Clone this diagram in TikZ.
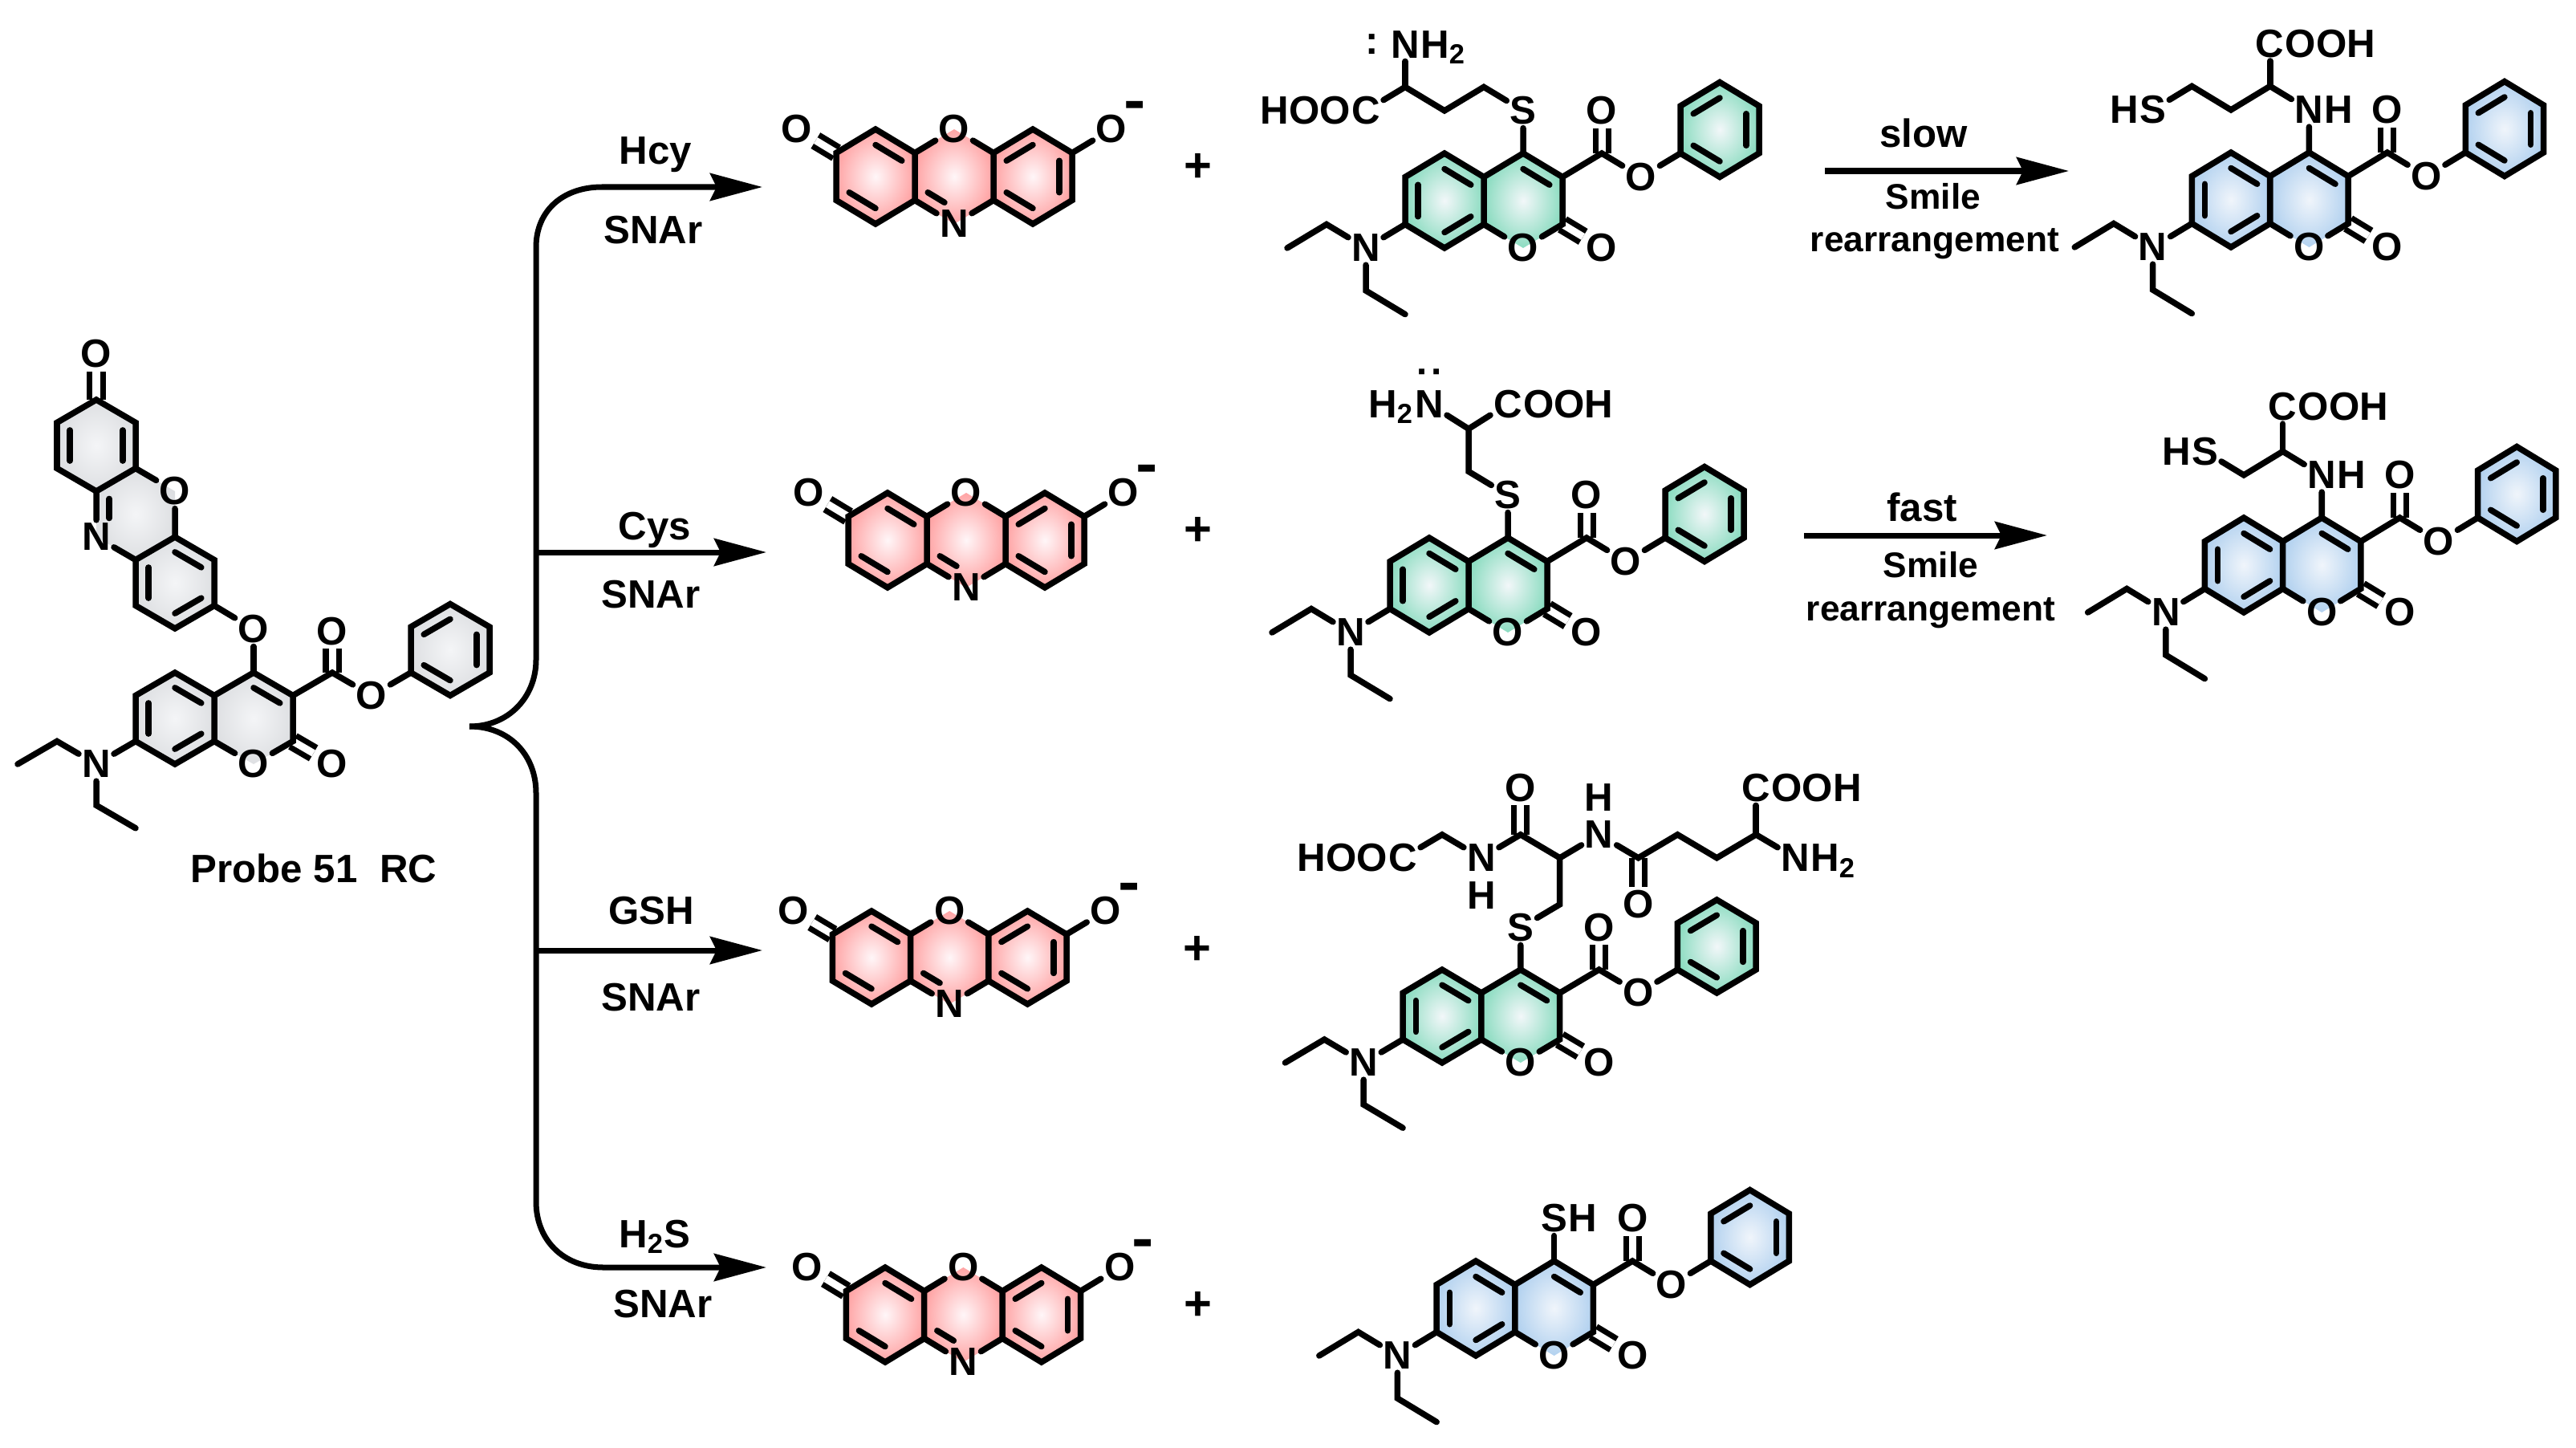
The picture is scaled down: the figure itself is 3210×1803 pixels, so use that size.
\documentclass[tikz,border=0pt]{standalone}
\usepackage{fontspec}
\setmainfont{Liberation Sans}
\usetikzlibrary{calc,arrows.meta}

\definecolor{redrim}{HTML}{FF8080}
\definecolor{redmid}{HTML}{FFF6F8}
\definecolor{mintrim}{HTML}{5FD0A8}
\definecolor{mintmid}{HTML}{F2F7F9}
\definecolor{bluerim}{HTML}{98C2EA}
\definecolor{bluemid}{HTML}{F0F5FB}
\definecolor{greyrim}{HTML}{D4D6D9}
\definecolor{greymid}{HTML}{F4F5F7}

\pgfdeclareradialshading{redshade}{\pgfpointorigin}{color(0bp)=(redmid); color(36bp)=(redrim); color(100bp)=(redrim)}
\pgfdeclareradialshading{mintshade}{\pgfpointorigin}{color(0bp)=(mintmid); color(36bp)=(mintrim); color(100bp)=(mintrim)}
\pgfdeclareradialshading{blueshade}{\pgfpointorigin}{color(0bp)=(bluemid); color(36bp)=(bluerim); color(100bp)=(bluerim)}
\pgfdeclareradialshading{greyshade}{\pgfpointorigin}{color(0bp)=(greymid); color(36bp)=(greyrim); color(100bp)=(greyrim)}

\tikzset{
    lattice/.style n args={4}{shift={(#1,#2)},x=#3*0.01cm,y=#4*0.01cm},
    bond/.style={line width=0.075cm,line cap=round,line join=miter},
    dblbond/.style={line width=0.07cm,double,double distance=0.09cm},
    atom/.style={font=\fontsize{14}{16}\selectfont\bfseries,inner sep=1pt},
    tailatom/.style={atom,anchor=base west,inner xsep=0pt,xshift=-1pt},
    headatom/.style={atom,anchor=base east,inner xsep=0pt,xshift=1pt},
    plussign/.style={font=\fontsize{17}{20}\selectfont\bfseries,inner sep=0pt},
    reagent/.style={font=\fontsize{14}{16}\selectfont\bfseries,anchor=base,inner sep=0pt},
    stepnote/.style={font=\fontsize{12.6}{15}\selectfont\bfseries,anchor=base,inner sep=0pt},
    reactarrow/.style={line width=0.07cm,-{Stealth[length=0.65cm,width=0.34cm,inset=0.08cm]}},
    redring/.style={shading=redshade},
    mintring/.style={shading=mintshade},
    bluering/.style={shading=blueshade},
    greyring/.style={shading=greyshade},
}

% hexagon shading: centre x, centre y, style
\newcommand{\hexring}[3]{\shade[#3] (#1,#2+2) -- (#1+1,#2+1) -- (#1+1,#2-1) -- (#1,#2-2) -- (#1-1,#2-1) -- (#1-1,#2+1) -- cycle;}
% second line of a ring double bond
\newcommand{\innerbond}[4][]{\draw[bond,#1] ($(#2)!.33!(#4)$) -- ($(#3)!.33!(#4)$);}

% coumarin ester with the diethylamino group
\newcommand{\coumarin}[2]{
    \foreach \n/\cx/\cy in {C5/0/2,C4a/1/1,C8a/1/-1,C8/0/-2,C7/-1/-1,C6/-1/1,C4/2/2,C3/3/1,C2/3/-1,Ce/4/2,
        Pa/6/2,Pb/6/4,Pc/7/5,Pd/8/4,Pe/8/2,Pf/7/1,Ea/-3/-1,Eb/-4/-2,Ec/-2/-3.8,Ed/-1/-4.8}
        \coordinate (#1\n) at (\cx,\cy);
    \hexring{0}{0}{#2}
    \hexring{2}{0}{#2}
    \hexring{7}{3}{#2}
    \node[atom] (#1Oa) at (2,-2) {O};
    \node[atom] (#1Ob) at (4,-2) {O};
    \node[atom] (#1Oc) at (4,3.8) {O};
    \node[atom] (#1Od) at (5,1) {O};
    \node[atom] (#1N) at (-2,-2) {N};
    \draw[dblbond] (#1Ce) -- (#1Oc);
    \draw[dblbond] (#1C2) -- (#1Ob);
    \draw[bond] (#1C4a) -- (#1C5) -- (#1C6) -- (#1C7) -- (#1C8) -- (#1C8a) -- cycle;
    \draw[bond] (#1C4a) -- (#1C4) -- (#1C3) -- (#1C2) -- (#1Oa) -- (#1C8a);
    \draw[bond] (#1C3) -- (#1Ce) -- (#1Od) -- (#1Pa);
    \draw[bond] (#1Pa) -- (#1Pb) -- (#1Pc) -- (#1Pd) -- (#1Pe) -- (#1Pf) -- cycle;
    \draw[bond] (#1C7) -- (#1N) -- (#1Ea) -- (#1Eb);
    \draw[bond] (#1N) -- (#1Ec) -- (#1Ed);
    \innerbond{0,2}{1,1}{0,0}
    \innerbond{-1,1}{-1,-1}{0,0}
    \innerbond{0,-2}{1,-1}{0,0}
    \innerbond{2,2}{3,1}{2,0}
    \innerbond{6,4}{7,5}{7,3}
    \innerbond{8,4}{8,2}{7,3}
    \innerbond{7,1}{6,2}{7,3}
}

% the released phenoxazine anion
\newcommand{\phenoxazine}[1]{
    \foreach \n/\cx/\cy in {A/0/2,B/1/1,C/1/-1,D/0/-2,E/-1/-1,F/-1/1,G/3/1,H/3/-1,I/4/2,J/5/1,K/5/-1,L/4/-2}
        \coordinate (#1\n) at (\cx,\cy);
    \hexring{0}{0}{redring}
    \hexring{2}{0}{redring}
    \hexring{4}{0}{redring}
    \node[atom] (#1Oa) at (-2,2) {O};
    \node[atom] (#1Ob) at (2,2) {O};
    \node[atom] (#1Oc) at (6,2) {O};
    \node[atom] (#1N) at (2,-2) {N};
    \node[atom] (#1Minus) at (6.6,2.7) {\scalebox{.85}[1.8]{--}};
    \draw[dblbond] (#1F) -- (#1Oa);
    \draw[bond] (#1B) -- (#1A) -- (#1F) -- (#1E) -- (#1D) -- (#1C) -- cycle;
    \draw[bond] (#1G) -- (#1I) -- (#1J) -- (#1K) -- (#1L) -- (#1H) -- cycle;
    \draw[bond] (#1B) -- (#1Ob) -- (#1G);
    \draw[bond] (#1C) -- (#1N) -- (#1H);
    \draw[bond] (#1J) -- (#1Oc);
    \innerbond{0,2}{1,1}{0,0}
    \innerbond{-1,-1}{0,-2}{0,0}
    \innerbond[shorten >=4pt]{1,-1}{2,-2}{2,0}
    \innerbond{4,2}{3,1}{4,0}
    \innerbond{5,1}{5,-1}{4,0}
    \innerbond{3,-1}{4,-2}{4,0}
}

\begin{document}
\begin{tikzpicture}[x=0.01cm,y=-0.01cm]
    \useasboundingbox (0,0) rectangle (3210,1803);

    % Left: the probe
    \begin{scope}[lattice={218}{895}{49}{28.5}]
        \coumarin{pr}{greyring}
        \node[atom] (prO) at (2,3.9) {O};
        \draw[bond] (prC4) -- (prO);
    \end{scope}
    \begin{scope}[lattice={120}{555}{49}{28.5}]
        \foreach \n/\cx/\cy in {A/0/2,B/1/1,C/1/-1,D/0/-2,E/-1/-1,F/-1/1,G/2/-4,H/3/-5,I/3/-7,J/2/-8,K/1/-7,L/1/-5}
            \coordinate (xa\n) at (\cx,\cy);
        \hexring{0}{0}{greyring}
        \hexring{1}{-3}{greyring}
        \hexring{2}{-6}{greyring}
        \node[atom] (xaOa) at (0,4) {O};
        \node[atom] (xaOb) at (2,-2) {O};
        \node[atom] (xaN) at (0,-4) {N};
        \draw[dblbond] (xaA) -- (xaOa);
        \draw[bond] (xaA) -- (xaB) -- (xaC) -- (xaD) -- (xaE) -- (xaF) -- cycle;
        \draw[bond] (xaG) -- (xaH) -- (xaI) -- (xaJ) -- (xaK) -- (xaL) -- cycle;
        \draw[bond] (xaC) -- (xaOb) -- (xaG);
        \draw[bond] (xaD) -- (xaN) -- (xaL);
        \innerbond{-1,1}{-1,-1}{0,0}
        \innerbond{1,1}{1,-1}{0,0}
        \innerbond[shorten >=4pt]{0,-2}{0,-4}{1,-3}
        \innerbond{2,-4}{3,-5}{2,-6}
        \innerbond{3,-7}{2,-8}{2,-6}
        \innerbond{1,-5}{1,-7}{2,-6}
    \end{scope}
    \draw[bond] (xaI) -- (prO);
    \node[reagent] (prName) at (391,1099) {Probe 51\ \ RC};

    % Branching arrows
    \coordinate (brTip) at (585,905);
    \coordinate (brUp) at (668,822);
    \coordinate (brTopBend) at (668,308);
    \coordinate (brTopEnd) at (750,233);
    \coordinate (hcyTip) at (950,233);
    \coordinate (brDown) at (668,988);
    \coordinate (brBotBend) at (668,1497);
    \coordinate (brBotEnd) at (752,1579);
    \coordinate (htsTip) at (955,1579);
    \coordinate (cysStart) at (668,688);
    \coordinate (cysTip) at (955,688);
    \coordinate (gshStart) at (668,1184);
    \coordinate (gshTip) at (950,1184);
    \draw[reactarrow] (brTip) .. controls (634,905) and (668,868) .. (brUp) -- (brTopBend) .. controls (668,262) and (702,233) .. (brTopEnd) -- (hcyTip);
    \draw[reactarrow] (brTip) .. controls (634,905) and (668,940) .. (brDown) -- (brBotBend) .. controls (668,1545) and (702,1579) .. (brBotEnd) -- (htsTip);
    \draw[reactarrow] (cysStart) -- (cysTip);
    \draw[reactarrow] (gshStart) -- (gshTip);
    \node[reagent] (hcyUp) at (817,205) {Hcy};
    \node[reagent] (hcyDn) at (814,303) {SNAr};
    \node[reagent] (cysUp) at (816,672) {Cys};
    \node[reagent] (cysDn) at (811,757) {SNAr};
    \node[reagent] (gshUp) at (812,1151) {GSH};
    \node[reagent] (gshDn) at (811,1259) {SNAr};
    \node[reagent] (htsUp) at (816,1554) {H\textsubscript{2}S};
    \node[reagent] (htsDn) at (826,1641) {SNAr};

    % Released dye in each row
    \begin{scope}[lattice={1091}{220}{49}{29.5}]
        \phenoxazine{ra}
    \end{scope}
    \begin{scope}[lattice={1106}{673}{49}{29.5}]
        \phenoxazine{rb}
    \end{scope}
    \begin{scope}[lattice={1086}{1193}{48.6}{29}]
        \phenoxazine{rc}
    \end{scope}
    \begin{scope}[lattice={1103}{1638}{48.7}{29.5}]
        \phenoxazine{rd}
    \end{scope}
    \node[plussign] (plusA) at (1493,209) {+};
    \node[plussign] (plusB) at (1493,662) {+};
    \node[plussign] (plusC) at (1492,1184) {+};
    \node[plussign] (plusD) at (1493,1627) {+};

    % Hcy adduct
    \begin{scope}[lattice={1800}{250}{49}{29.5}]
        \coumarin{ha}{mintring}
        \node[atom] (haS) at (2,3.8) {S};
        \node[atom] (haN2) at (-1,6.6) {N};
        \node[tailatom] (haH2) at (haN2.base east) {H\textsubscript{2}};
        \node[atom] (haPair) at (-1.85,6.6) {:};
        \node[atom] (haC) at (-2,3.8) {C};
        \node[headatom] (haHoo) at (haC.base west) {HOO};
        \coordinate (haU) at (1,4.8);
        \coordinate (haV) at (0,3.8);
        \coordinate (haW) at (-1,4.8);
        \draw[bond] (haC4) -- (haS) -- (haU) -- (haV) -- (haW) -- (haC);
        \draw[bond] (haW) -- (haN2);
    \end{scope}

    % Hcy rearranged
    \coordinate (slowA) at (2274,213);
    \coordinate (slowB) at (2578,213);
    \draw[reactarrow] (slowA) -- (slowB);
    \node[reagent] (slowUp) at (2397,183) {slow};
    \node[stepnote] (slowMd) at (2409,260) {Smile};
    \node[stepnote] (slowDn) at (2411,313) {rearrangement};
    \begin{scope}[lattice={2780}{249}{48.7}{29.5}]
        \coumarin{hb}{bluering}
        \node[atom] (hbN2) at (2,3.8) {N};
        \node[tailatom] (hbH2) at (hbN2.base east) {H};
        \node[atom] (hbC) at (1,6.6) {C};
        \node[tailatom] (hbOoh) at (hbC.base east) {OOH};
        \node[atom] (hbS) at (-2,3.8) {S};
        \node[headatom] (hbHs) at (hbS.base west) {H};
        \coordinate (hbU) at (1,4.8);
        \coordinate (hbV) at (0,3.8);
        \coordinate (hbW) at (-1,4.8);
        \draw[bond] (hbC4) -- (hbN2) -- (hbU) -- (hbV) -- (hbW) -- (hbS);
        \draw[bond] (hbU) -- (hbC);
    \end{scope}

    % Cys adduct
    \begin{scope}[lattice={1781}{729}{49}{29.5}]
        \coumarin{ca}{mintring}
        \node[atom] (caS) at (2,3.8) {S};
        \node[atom] (caN2) at (0,7.65) {N};
        \node[headatom] (caH2) at (caN2.base west) {H\textsubscript{2}};
        \node[atom,rotate=90] (caPair) at (0,9) {:};
        \node[atom] (caC) at (2,7.65) {C};
        \node[tailatom] (caOoh) at (caC.base east) {OOH};
        \coordinate (caU) at (1,4.8);
        \coordinate (caV) at (1,6.6);
        \draw[bond] (caC4) -- (caS) -- (caU) -- (caV) -- (caN2);
        \draw[bond] (caV) -- (caC);
    \end{scope}

    % Cys rearranged
    \coordinate (fastA) at (2248,667);
    \coordinate (fastB) at (2551,667);
    \draw[reactarrow] (fastA) -- (fastB);
    \node[reagent] (fastUp) at (2395,649) {fast};
    \node[stepnote] (fastMd) at (2406,719) {Smile};
    \node[stepnote] (fastDn) at (2406,773) {rearrangement};
    \begin{scope}[lattice={2796}{704}{48.6}{29.5}]
        \coumarin{cb}{bluering}
        \node[atom] (cbN2) at (2,3.8) {N};
        \node[tailatom] (cbH2) at (cbN2.base east) {H};
        \node[atom] (cbC) at (1,6.7) {C};
        \node[tailatom] (cbOoh) at (cbC.base east) {OOH};
        \node[atom] (cbS) at (-1,4.8) {S};
        \node[headatom] (cbHs) at (cbS.base west) {H};
        \coordinate (cbU) at (1,4.8);
        \coordinate (cbV) at (0,3.8);
        \draw[bond] (cbC4) -- (cbN2) -- (cbU) -- (cbV) -- (cbS);
        \draw[bond] (cbU) -- (cbC);
    \end{scope}

    % GSH adduct
    \begin{scope}[lattice={1797}{1266}{48.9}{29}]
        \coumarin{ga}{mintring}
        \node[atom] (gaS) at (2,3.8) {S};
        \node[atom] (gaOa) at (2,9.8) {O};
        \node[atom] (gaOb) at (5,4.8) {O};
        \node[atom] (gaNa) at (1,6.8) {N};
        \node[atom,inner sep=0pt] (gaHa) at (1,5.2) {H};
        \node[atom] (gaNb) at (4,7.8) {N};
        \node[atom,inner sep=0pt] (gaHb) at (4,9.4) {H};
        \node[atom] (gaC) at (-1,6.8) {C};
        \node[headatom] (gaHoo) at (gaC.base west) {HOO};
        \node[atom] (gaCb) at (8,9.8) {C};
        \node[tailatom] (gaOoh) at (gaCb.base east) {OOH};
        \node[atom] (gaNc) at (9,6.8) {N};
        \node[tailatom] (gaH2) at (gaNc.base east) {H\textsubscript{2}};
        \foreach \n/\cx/\cy in {U/3/4.8,V/3/6.8,W/2/7.8,X/0/7.8,Y/5/6.8,Z/6/7.8,Q/7/6.8,R/8/7.8}
            \coordinate (ga\n) at (\cx,\cy);
        \draw[dblbond] (gaW) -- (gaOa);
        \draw[dblbond] (gaY) -- (gaOb);
        \draw[bond] (gaC4) -- (gaS) -- (gaU) -- (gaV) -- (gaW) -- (gaNa) -- (gaX) -- (gaC);
        \draw[bond] (gaV) -- (gaNb) -- (gaY) -- (gaZ) -- (gaQ) -- (gaR) -- (gaNc);
        \draw[bond] (gaR) -- (gaCb);
    \end{scope}

    % H2S product
    \begin{scope}[lattice={1839}{1630}{48.8}{29.5}]
        \coumarin{ta}{bluering}
        \node[atom] (taS) at (2,3.8) {S};
        \node[tailatom] (taH) at (taS.base east) {H};
        \draw[bond] (taC4) -- (taS);
    \end{scope}
\end{tikzpicture}
\end{document}
